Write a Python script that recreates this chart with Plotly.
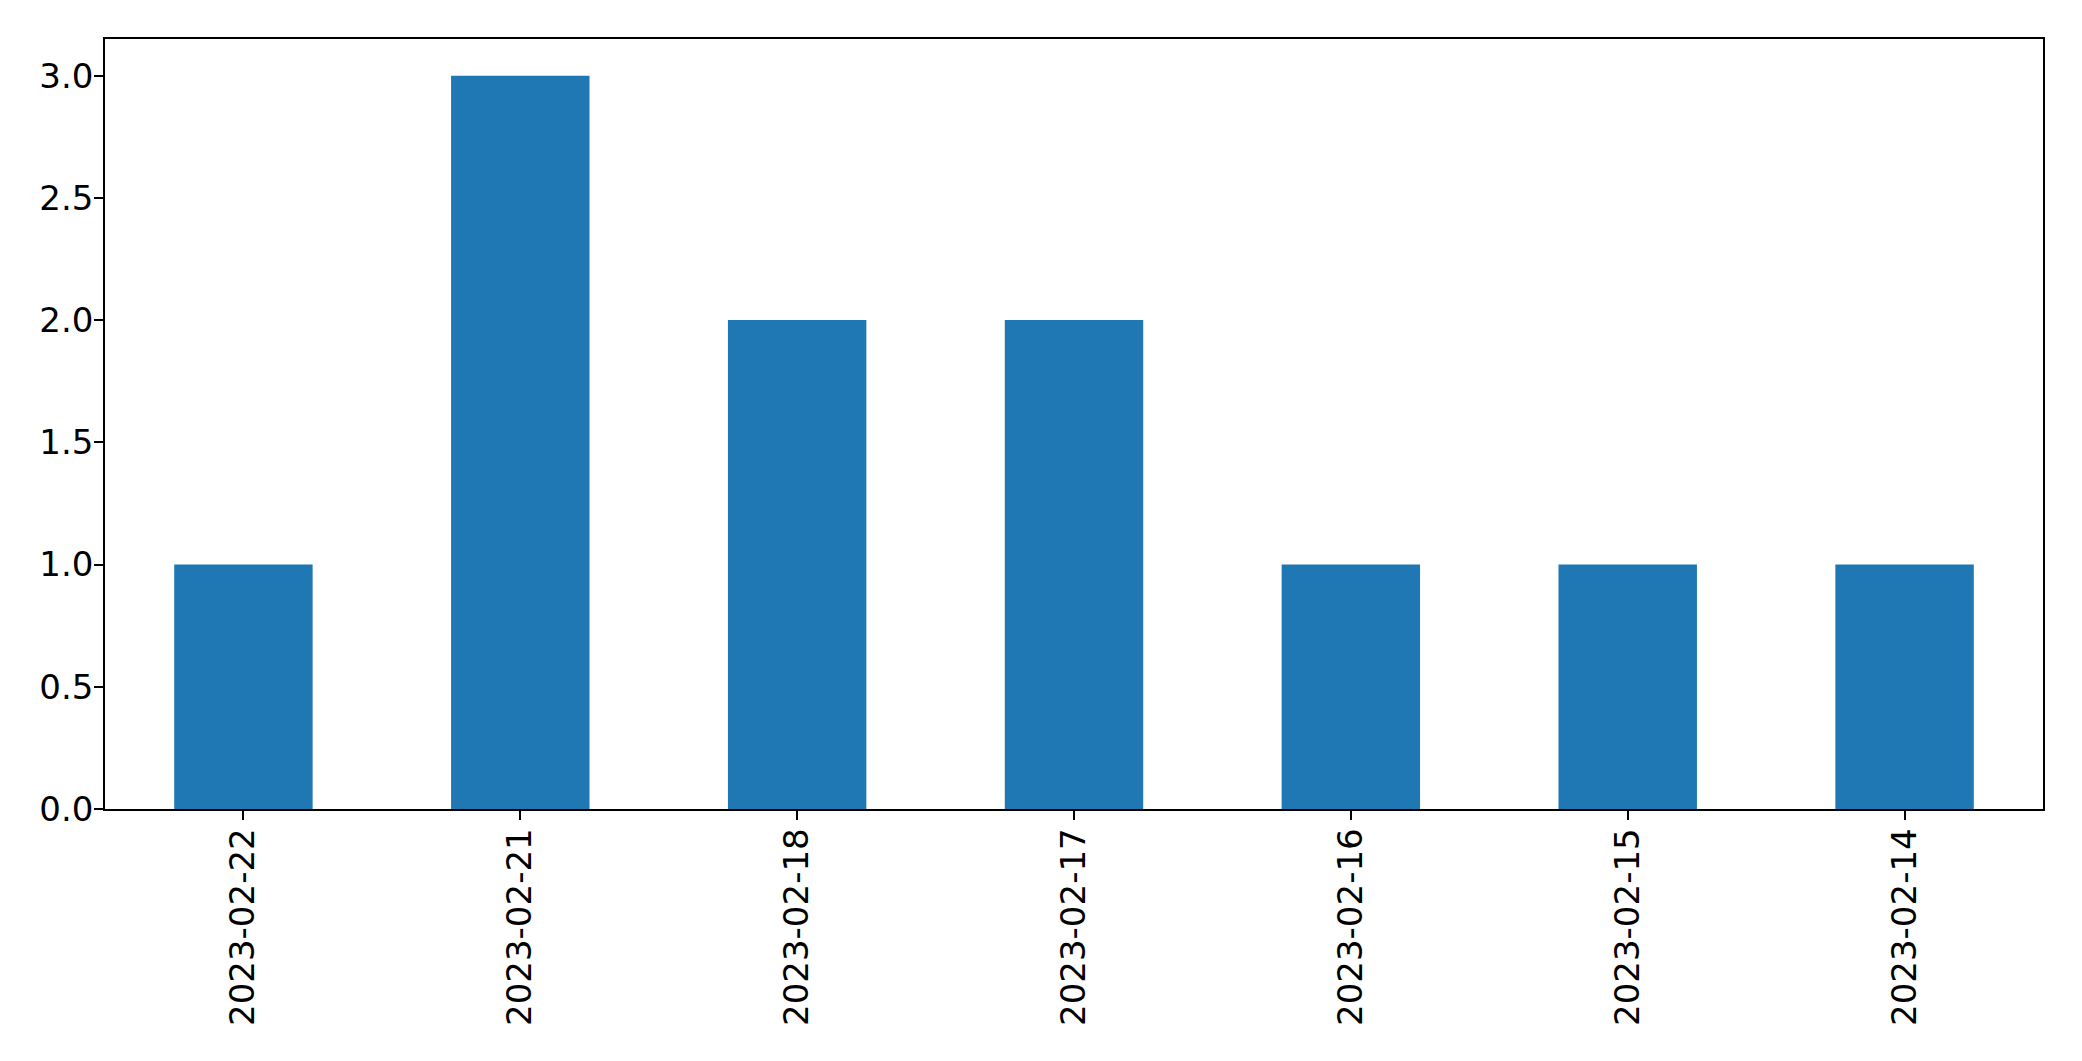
import plotly.graph_objects as go

dates = ["2023-02-22", "2023-02-21", "2023-02-18", "2023-02-17", "2023-02-16", "2023-02-15", "2023-02-14"]
counts = [1, 3, 2, 2, 1, 1, 1]
y_ticks = [0.0, 0.5, 1.0, 1.5, 2.0, 2.5, 3.0]
y_tick_labels = ["0.0", "0.5", "1.0", "1.5", "2.0", "2.5", "3.0"]

fig = go.Figure(go.Bar(x=dates, y=counts, width=0.5, marker=dict(color="#1f77b4", line=dict(width=0))))

font = dict(family="DejaVu Sans", size=34, color="black")
fig.update_layout(
    width=2066, height=1045,
    margin=dict(l=97, r=31, t=31, b=244, pad=0),
    paper_bgcolor="white", plot_bgcolor="white",
    showlegend=False,
    font=font,
)
fig.update_xaxes(
    type="category", range=[-0.5, 6.5],
    showgrid=False, zeroline=False,
    showline=True, linecolor="black", linewidth=1.5, mirror=True,
    ticks="outside", ticklen=9, tickwidth=1.5, tickcolor="black",
    tickangle=-90, tickfont=font, ticklabelstandoff=-5,
)
fig.update_yaxes(
    range=[0, 3.15],
    tickvals=y_ticks, ticktext=y_tick_labels,
    showgrid=False, zeroline=False,
    showline=True, linecolor="black", linewidth=1.5, mirror=True,
    ticks="outside", ticklen=9, tickwidth=1.5, tickcolor="black",
    tickfont=font, ticklabelstandoff=-6,
)
fig.write_html("out.html")
